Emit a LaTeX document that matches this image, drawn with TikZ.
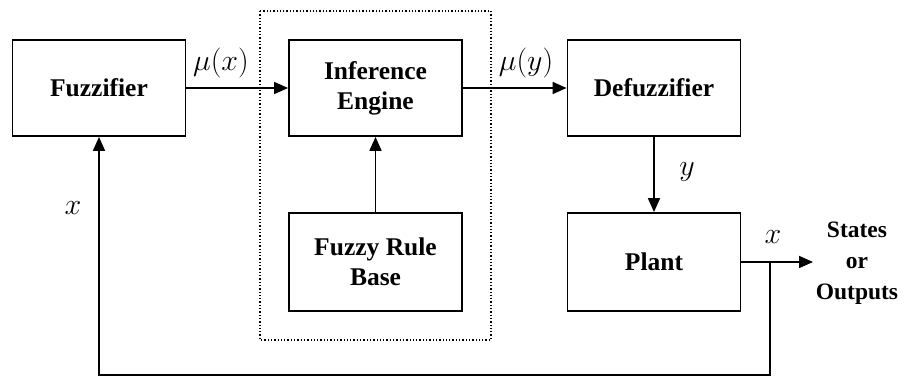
\RequirePackage{fix-cm}
\documentclass[tikz,border=0pt]{standalone}
\usepackage{fontspec}
\setmainfont{Liberation Serif}
\usetikzlibrary{arrows.meta}
\begin{document}
\begin{tikzpicture}[x=1pt,y=-1pt,
  blk/.style={draw,line width=1.8pt,minimum width=173pt,minimum height=96pt,inner sep=0pt,align=center,
    font=\bfseries\fontsize{25.5}{30}\selectfont},
  conn/.style={line width=1.7pt},
  arr/.style={conn,-{Triangle[length=14pt,width=12pt]}},
  lbl/.style={font=\fontsize{30}{34}\selectfont,inner sep=0pt}]
\useasboundingbox (0,0) rectangle (905,377);
\draw[line width=1.3pt,dotted] (260,11) rectangle (491,340);
\node[blk] (fuz) at (99,88) {Fuzzifier};
\node[blk] (inf) at (375.5,88) {Inference\\Engine};
\node[blk] (def) at (654,88) {Defuzzifier};
\node[blk,minimum height=98pt] (rule) at (375.5,262) {Fuzzy Rule\\Base};
\node[blk,minimum height=98pt] (plant) at (654,262) {Plant};
\coordinate (out) at (813,262);
\coordinate (br) at (770,262);
\coordinate (c1) at (770,375);
\coordinate (c2) at (99,375);
\draw[arr] (fuz.east) -- (inf.west);
\draw[arr] (inf.east) -- (def.west);
\draw[arr] (rule.north) -- (inf.south);
\draw[arr] (def.south) -- (plant.north);
\draw[arr] (plant.east) -- (out);
\draw[arr] (br) -- (c1) -- (c2) -- (fuz.south);
\node[lbl] (mux) at (221,63) {$\mu(x)$};
\node[lbl] (muy) at (526,63) {$\mu(y)$};
\node[lbl] (ly) at (687,172) {$y$};
\node[lbl] (lx2) at (773,237) {$x$};
\node[lbl] (lx1) at (73,208) {$x$};
\node[align=center,font=\bfseries\fontsize{23.5}{31}\selectfont,inner sep=0pt] (st) at (857,263) {States\\or\\Outputs};
\end{tikzpicture}
\end{document}
